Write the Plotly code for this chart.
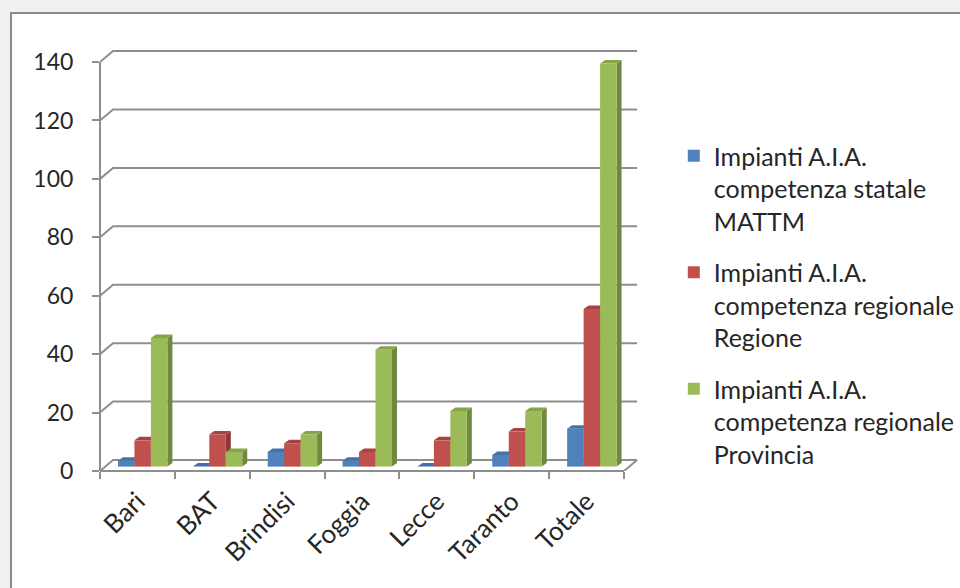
import plotly.graph_objects as go

# ---- data -----------------------------------------------------------------
categories = ["Bari", "BAT", "Brindisi", "Foggia", "Lecce", "Taranto", "Totale"]
statale_mattm = [2, 0, 5, 2, 0, 4, 13]
regionale_regione = [9, 11, 8, 5, 9, 12, 54]
regionale_provincia = [44, 5, 11, 40, 19, 19, 138]
y_ticks = [0, 20, 40, 60, 80, 100, 120, 140]

series_names = [
    "Impianti A.I.A.<br>competenza statale<br>MATTM",
    "Impianti A.I.A.<br>competenza regionale<br>Regione",
    "Impianti A.I.A.<br>competenza regionale<br>Provincia",
]
series_values = [statale_mattm, regionale_regione, regionale_provincia]
# front, side, top colours for the pseudo-3D columns
series_colors = [
    ("#4f81bd", "#385d8a", "#4371a8"),
    ("#c0504d", "#8c3836", "#a8423f"),
    ("#9bbb59", "#71893f", "#86a449"),
]

# ---- geometry (axis units) -----------------------------------------------
X_RANGE = [-0.5, 6.713]
Y_RANGE = [0, 147.55]
BAR_W = 0.22
BAR_OFFSETS = [-0.26, -0.04, 0.18]
BAR_BASE = 1.5          # columns stand half-way back on the floor
FACE_DX, FACE_DY = 0.067, 1.2     # depth of each column
WALL_DX, WALL_DY = 0.174, 3.77    # depth of floor / back wall

GRID = "#8e8e8e"
FONT = "Lato"
TEXT = "#262626"

fig = go.Figure()

shapes = []
# chart-area frame
shapes.append(dict(type="rect", xref="paper", yref="paper",
                   x0=-0.1648, x1=1.65, y0=-0.32, y1=1.0626,
                   fillcolor="white", line=dict(color="#8a8a8a", width=2),
                   layer="below"))

# back wall gridlines with their diagonal links to the front axis
x_first, x_last = -0.5, len(categories) - 0.5
for v in y_ticks:
    shapes.append(dict(type="path", xref="x", yref="y", layer="below",
                       path=f"M{x_first},{v} L{x_first + WALL_DX},{v + WALL_DY} "
                            f"L{x_last + WALL_DX},{v + WALL_DY}",
                       line=dict(color=GRID, width=2)))
# floor: right edge and front edge
shapes.append(dict(type="line", xref="x", yref="y", layer="below",
                   x0=x_last, y0=0, x1=x_last + WALL_DX, y1=WALL_DY,
                   line=dict(color=GRID, width=2)))
shapes.append(dict(type="line", xref="x", yref="paper", layer="below",
                   x0=x_first, y0=0, x1=x_last, y1=0,
                   line=dict(color=GRID, width=2)))
# vertical value axis line
shapes.append(dict(type="line", xref="paper", yref="y", layer="below",
                   x0=0, y0=0, x1=0, y1=max(y_ticks),
                   line=dict(color=GRID, width=2)))

# side and top faces of every column (drawn under the front faces)
for vals, off, (front, side, top) in zip(series_values, BAR_OFFSETS, series_colors):
    for i, v in enumerate(vals):
        x0 = i + off
        x1 = x0 + BAR_W
        b = BAR_BASE
        t = BAR_BASE + v
        shapes.append(dict(type="path", xref="x", yref="y", layer="below",
                           path=f"M{x1},{b} L{x1 + FACE_DX},{b + FACE_DY} "
                                f"L{x1 + FACE_DX},{t + FACE_DY} L{x1},{t} Z",
                           fillcolor=side, line=dict(width=0)))
        shapes.append(dict(type="path", xref="x", yref="y", layer="below",
                           path=f"M{x0},{t} L{x0 + FACE_DX},{t + FACE_DY} "
                                f"L{x1 + FACE_DX},{t + FACE_DY} L{x1},{t} Z",
                           fillcolor=top, line=dict(width=0)))

# front faces of the columns
for k, (name, vals, off, (front, side, top)) in enumerate(
        zip(series_names, series_values, BAR_OFFSETS, series_colors)):
    fig.add_trace(go.Bar(
        x=list(range(len(categories))), y=vals,
        base=[BAR_BASE] * len(vals),
        width=BAR_W, offset=off,
        name=name, legendgroup=f"g{k}",
        marker=dict(color=front, line=dict(width=0)),
    ))

fig.update_layout(
    width=960, height=588,
    margin=dict(l=100, r=320, t=40, b=117, autoexpand=False),
    paper_bgcolor="#f0f0f0",
    plot_bgcolor="rgba(0,0,0,0)",
    barmode="overlay",
    shapes=shapes,
    font=dict(family=FONT, size=23, color=TEXT),
    showlegend=True,
    legend=dict(x=1.0626, y=0.784, xanchor="left", yanchor="top",
                valign="top", traceorder="grouped", tracegroupgap=16,
                font=dict(family=FONT, size=25, color=TEXT),
                bgcolor="rgba(0,0,0,0)"),
    xaxis=dict(
        range=X_RANGE, showgrid=False, zeroline=False, showline=False,
        automargin=False,
        tickmode="array",
        tickvals=list(range(len(categories))),
        ticktext=categories, tickangle=-45, ticks="",
        tickfont=dict(family=FONT, size=26, color=TEXT),
        ticklabelstandoff=9,
        minor=dict(tickmode="array",
                   tickvals=[i - 0.5 for i in range(len(categories) + 1)],
                   ticks="outside", ticklen=7, tickwidth=2, tickcolor=GRID),
    ),
    yaxis=dict(
        range=Y_RANGE, showgrid=False, zeroline=False, showline=False,
        automargin=False,
        tickmode="array", tickvals=y_ticks,
        ticks="outside", ticklen=7, tickwidth=2, tickcolor=GRID,
        ticklabelstandoff=14,
    ),
)

fig.write_html("out.html")
